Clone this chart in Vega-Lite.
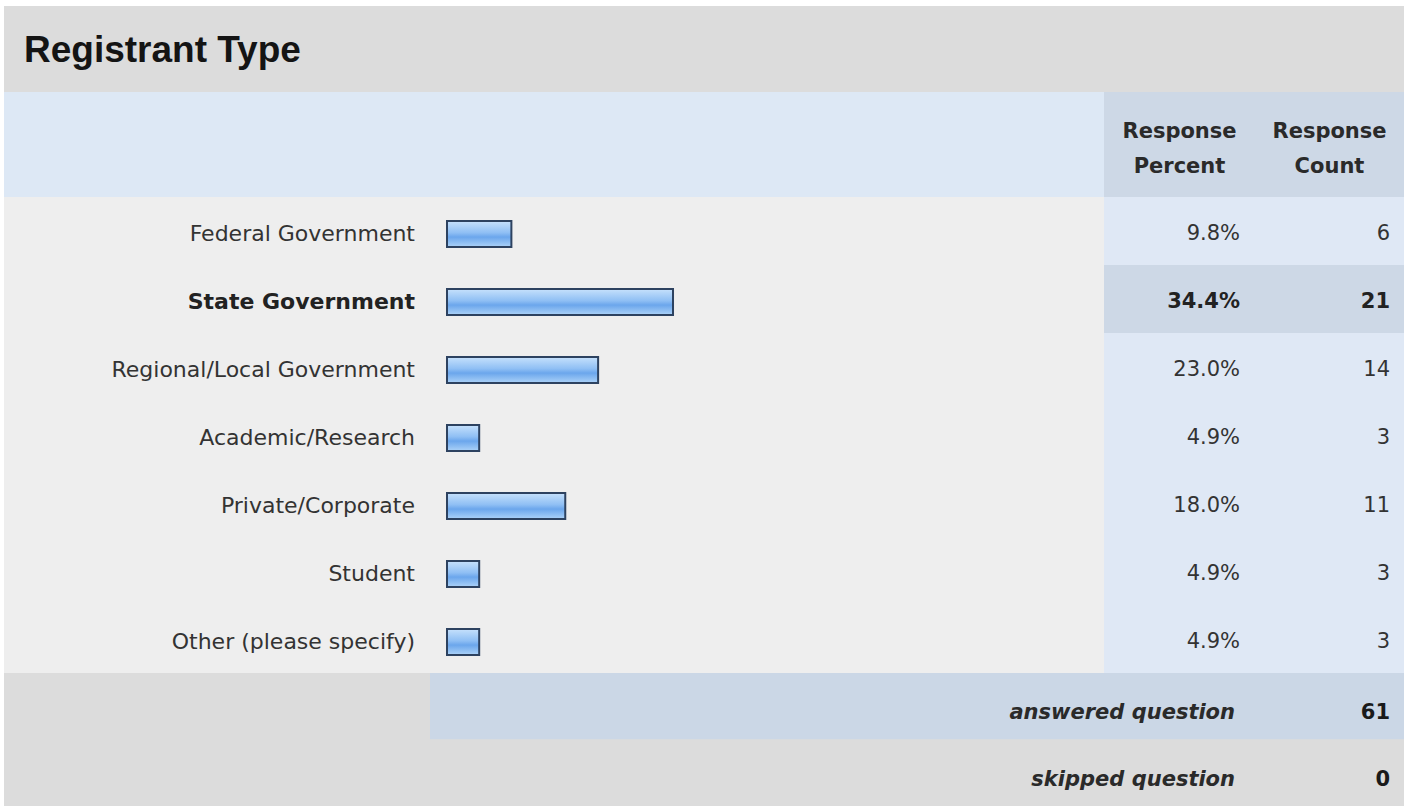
{
  "$schema": "https://vega.github.io/schema/vega-lite/v6.json",
  "padding": {"left": 4, "top": 6, "right": 4, "bottom": 4},
  "background": "#ffffff",
  "spacing": 0,
  "config": {
    "view": {"stroke": null},
    "concat": {"spacing": 0},
    "text": {"font": "DejaVu Sans", "color": "#333333"}
  },
  "datasets": {
    "title": [{"t": "Registrant Type"}],
    "header": [
      {"col": "Percent", "label": "Response\nPercent"},
      {"col": "Count", "label": "Response\nCount"}
    ],
    "rows": [
      {"cat": "Federal Government", "pct": 0.098, "count": 6},
      {"cat": "State Government", "pct": 0.344, "count": 21},
      {"cat": "Regional/Local Government", "pct": 0.23, "count": 14},
      {"cat": "Academic/Research", "pct": 0.049, "count": 3},
      {"cat": "Private/Corporate", "pct": 0.18, "count": 11},
      {"cat": "Student", "pct": 0.049, "count": 3},
      {"cat": "Other (please specify)", "pct": 0.049, "count": 3}
    ],
    "footer": [
      {"row": "answered question", "count": 61},
      {"row": "skipped question", "count": 0}
    ]
  },
  "vconcat": [
    {
      "data": {"name": "title"},
      "width": 1400,
      "height": 86,
      "view": {"fill": "#dcdcdc", "stroke": null},
      "mark": {"type": "text", "font": "Liberation Sans", "align": "left", "baseline": "middle", "fontSize": 37, "fontWeight": "bold", "color": "#141414", "dx": 20, "dy": 2},
      "encoding": {"x": {"value": 0}, "text": {"field": "t"}}
    },
    {
      "spacing": 0,
      "bounds": "flush",
      "hconcat": [
        {
          "data": {"name": "header"},
          "width": 1100,
          "height": 105,
          "view": {"fill": "#dde8f5", "stroke": null},
          "mark": {"type": "text"},
          "encoding": {"text": {"value": ""}}
        },
        {
          "data": {"name": "header"},
          "transform": [{"filter": "datum.col === 'Percent'"}],
          "width": 151,
          "height": 105,
          "view": {"fill": "#cdd8e6", "stroke": null},
          "mark": {"type": "text", "align": "center", "baseline": "middle", "fontSize": 21, "fontWeight": "bold", "lineBreak": "\n", "lineHeight": 35, "dy": -13, "color": "#2a2a2a"},
          "encoding": {"text": {"field": "label"}}
        },
        {
          "data": {"name": "header"},
          "transform": [{"filter": "datum.col === 'Count'"}],
          "width": 149,
          "height": 105,
          "view": {"fill": "#cdd8e6", "stroke": null},
          "mark": {"type": "text", "align": "center", "baseline": "middle", "fontSize": 21, "fontWeight": "bold", "lineBreak": "\n", "lineHeight": 35, "dy": -13, "color": "#2a2a2a"},
          "encoding": {"text": {"field": "label"}}
        }
      ]
    },
    {
      "spacing": 0,
      "bounds": "flush",
      "hconcat": [
        {
          "data": {"name": "rows"},
          "width": 443,
          "height": 476,
          "view": {"fill": "#eeeeee", "stroke": null},
          "layer": [
            {
              "transform": [{"filter": "datum.cat !== 'State Government'"}],
              "mark": {"type": "text", "align": "right", "baseline": "middle", "fontSize": 22, "dx": -32, "dy": 3},
              "encoding": {
                "x": {"value": "width"},
                "y": {"field": "cat", "type": "nominal", "axis": null, "scale": {"domain": ["Federal Government", "State Government", "Regional/Local Government", "Academic/Research", "Private/Corporate", "Student", "Other (please specify)"]}},
                "text": {"field": "cat"}
              }
            },
            {
              "transform": [{"filter": "datum.cat === 'State Government'"}],
              "mark": {"type": "text", "align": "right", "baseline": "middle", "fontSize": 22, "fontWeight": "bold", "color": "#222222", "dx": -32, "dy": 3},
              "encoding": {
                "x": {"value": "width"},
                "y": {"field": "cat", "type": "nominal", "axis": null, "scale": {"domain": ["Federal Government", "State Government", "Regional/Local Government", "Academic/Research", "Private/Corporate", "Student", "Other (please specify)"]}},
                "text": {"field": "cat"}
              }
            }
          ]
        },
        {
          "data": {"name": "rows"},
          "width": 657,
          "height": 476,
          "view": {"fill": "#eeeeee", "stroke": null},
          "mark": {
            "type": "bar",
            "yOffset": 3,
            "stroke": "#2d4260",
            "strokeWidth": 2,
            "fill": {
              "gradient": "linear", "x1": 0, "y1": 0, "x2": 0, "y2": 1,
              "stops": [
                {"offset": 0, "color": "#c6e1fc"},
                {"offset": 0.45, "color": "#8fbff4"},
                {"offset": 0.62, "color": "#6ba6ec"},
                {"offset": 1, "color": "#acd2f8"}
              ]
            }
          },
          "encoding": {
            "x": {"field": "pct", "type": "quantitative", "axis": null, "scale": {"domain": [0, 1]}},
            "y": {"field": "cat", "type": "nominal", "axis": null, "scale": {"domain": ["Federal Government", "State Government", "Regional/Local Government", "Academic/Research", "Private/Corporate", "Student", "Other (please specify)"], "paddingInner": 0.62, "paddingOuter": 0.31}}
          }
        },
        {
          "data": {"name": "rows"},
          "width": 151,
          "height": 476,
          "view": {"fill": "#dfe8f5", "stroke": null},
          "encoding": {
            "y": {"field": "cat", "type": "nominal", "axis": null, "scale": {"domain": ["Federal Government", "State Government", "Regional/Local Government", "Academic/Research", "Private/Corporate", "Student", "Other (please specify)"], "paddingInner": 0, "paddingOuter": 0}}
          },
          "layer": [
            {
              "mark": {"type": "rect"},
              "encoding": {
                "fill": {"condition": {"test": "datum.cat === 'State Government'", "value": "#cdd8e6"}, "value": "#dfe8f5"}
              }
            },
            {
              "transform": [{"filter": "datum.cat !== 'State Government'"}],
              "mark": {"type": "text", "align": "right", "baseline": "middle", "fontSize": 21, "dx": -15, "dy": 3},
              "encoding": {"x": {"value": "width"}, "text": {"field": "pct", "type": "quantitative", "format": ".1%"}}
            },
            {
              "transform": [{"filter": "datum.cat === 'State Government'"}],
              "mark": {"type": "text", "align": "right", "baseline": "middle", "fontSize": 21, "fontWeight": "bold", "color": "#222222", "dx": -15, "dy": 3},
              "encoding": {"x": {"value": "width"}, "text": {"field": "pct", "type": "quantitative", "format": ".1%"}}
            }
          ]
        },
        {
          "data": {"name": "rows"},
          "width": 149,
          "height": 476,
          "view": {"fill": "#dfe8f5", "stroke": null},
          "encoding": {
            "y": {"field": "cat", "type": "nominal", "axis": null, "scale": {"domain": ["Federal Government", "State Government", "Regional/Local Government", "Academic/Research", "Private/Corporate", "Student", "Other (please specify)"], "paddingInner": 0, "paddingOuter": 0}}
          },
          "layer": [
            {
              "mark": {"type": "rect"},
              "encoding": {
                "fill": {"condition": {"test": "datum.cat === 'State Government'", "value": "#cdd8e6"}, "value": "#dfe8f5"}
              }
            },
            {
              "transform": [{"filter": "datum.cat !== 'State Government'"}],
              "mark": {"type": "text", "align": "right", "baseline": "middle", "fontSize": 21, "dx": -14, "dy": 3},
              "encoding": {"x": {"value": "width"}, "text": {"field": "count", "type": "quantitative"}}
            },
            {
              "transform": [{"filter": "datum.cat === 'State Government'"}],
              "mark": {"type": "text", "align": "right", "baseline": "middle", "fontSize": 21, "fontWeight": "bold", "color": "#222222", "dx": -14, "dy": 3},
              "encoding": {"x": {"value": "width"}, "text": {"field": "count", "type": "quantitative"}}
            }
          ]
        }
      ]
    },
    {
      "spacing": 0,
      "bounds": "flush",
      "hconcat": [
        {
          "data": {"name": "footer"},
          "width": 426,
          "height": 133,
          "view": {"fill": "#dcdcdc", "stroke": null},
          "mark": {"type": "text"},
          "encoding": {"text": {"value": ""}}
        },
        {
          "data": {"name": "footer"},
          "width": 825,
          "height": 133,
          "view": {"fill": "#dcdcdc", "stroke": null},
          "encoding": {
            "y": {"field": "row", "type": "nominal", "axis": null, "scale": {"domain": ["answered question", "skipped question"], "paddingInner": 0, "paddingOuter": 0}}
          },
          "layer": [
            {
              "mark": {"type": "rect"},
              "encoding": {
                "fill": {"condition": {"test": "datum.row === 'answered question'", "value": "#cbd7e6"}, "value": "#dcdcdc"}
              }
            },
            {
              "mark": {"type": "text", "align": "right", "baseline": "middle", "fontSize": 21, "fontWeight": "bold", "fontStyle": "italic", "color": "#2a2a2a", "dx": -20, "dy": 7},
              "encoding": {"x": {"value": "width"}, "text": {"field": "row"}}
            }
          ]
        },
        {
          "data": {"name": "footer"},
          "width": 149,
          "height": 133,
          "view": {"fill": "#dcdcdc", "stroke": null},
          "encoding": {
            "y": {"field": "row", "type": "nominal", "axis": null, "scale": {"domain": ["answered question", "skipped question"], "paddingInner": 0, "paddingOuter": 0}}
          },
          "layer": [
            {
              "mark": {"type": "rect"},
              "encoding": {
                "fill": {"condition": {"test": "datum.row === 'answered question'", "value": "#cbd7e6"}, "value": "#dcdcdc"}
              }
            },
            {
              "mark": {"type": "text", "align": "right", "baseline": "middle", "fontSize": 21, "fontWeight": "bold", "color": "#1a1a1a", "dx": -14, "dy": 7},
              "encoding": {"x": {"value": "width"}, "text": {"field": "count", "type": "quantitative"}}
            }
          ]
        }
      ]
    }
  ]
}
